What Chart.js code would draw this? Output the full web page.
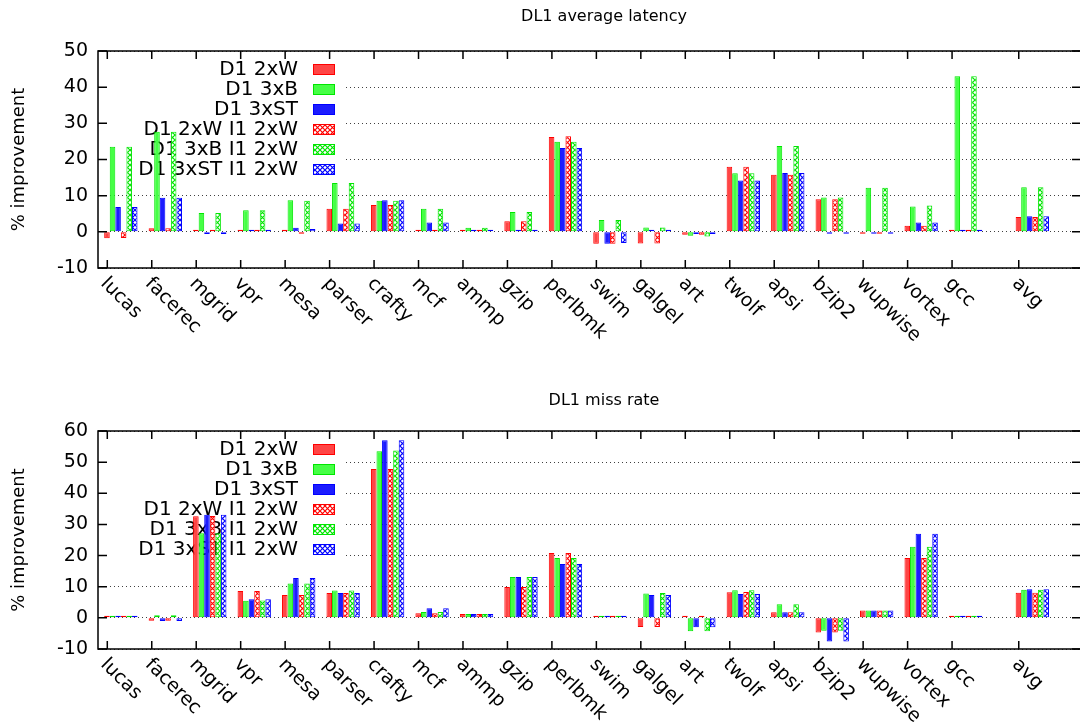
<!DOCTYPE html>
<html>
<head>
<meta charset="utf-8">
<title>DL1 average latency / DL1 miss rate</title>
<script src="https://cdn.jsdelivr.net/npm/chart.js@4/dist/chart.umd.min.js"></script>
<style>
    html, body { margin: 0; padding: 0; background: #fff; overflow: hidden; }
    #wrap { position: relative; width: 1080px; height: 726px; overflow: hidden; }
    canvas { position: absolute; left: 0; }
    #latency { top: 0; }
    #missrate { top: 381px; }
</style>
</head>
<body>
<div id="wrap">
    <canvas id="latency" width="1084" height="381"></canvas>
    <canvas id="missrate" width="1084" height="345"></canvas>
</div>
<script>
const benchmarks = ['lucas', 'facerec', 'mgrid', 'vpr', 'mesa', 'parser', 'crafty', 'mcf', 'ammp', 'gzip',
    'perlbmk', 'swim', 'galgel', 'art', 'twolf', 'apsi', 'bzip2', 'wupwise', 'vortex', 'gcc', 'avg']
// slot of each benchmark on the x axis (avg sits half a slot further out)
const benchSlots = [0, 1, 2, 3, 4, 5, 6, 7, 8, 9, 10, 11, 12, 13, 14, 15, 16, 17, 18, 19, 20.5]

const seriesNames = ['D1 2xW', 'D1 3xB', 'D1 3xST', 'D1 2xW I1 2xW', 'D1 3xB I1 2xW', 'D1 3xST I1 2xW']

// DL1 average latency, % improvement
const lat2xW = [-1.8, 1.0, 0.6, 0.6, 0.1, 6.4, 7.4, 0.6, 0.4, 2.9, 26.2, -3.3, -3.2, -0.8, 18.0, 15.8, 9.0, -0.5, 1.7, 0.6, 4.1]
const lat3xB = [23.5, 27.7, 5.2, 6.0, 8.7, 13.5, 8.6, 6.4, 1.1, 5.5, 24.9, 3.3, 1.2, -1.1, 16.2, 23.7, 9.5, 12.2, 7.0, 43.0, 12.3]
const lat3xST = [6.9, 9.4, -0.6, 0.6, 1.1, 2.3, 8.7, 2.6, 0.5, 0.6, 23.2, -3.3, 0.6, -0.6, 14.2, 16.3, -0.3, -0.2, 2.6, 0.3, 4.3]
const lat2xWI1 = [-1.7, 1.0, 0.6, 0.6, -0.4, 6.4, 7.4, 0.6, 0.4, 2.9, 26.4, -3.3, -3.2, -0.8, 18.0, 15.8, 9.0, -0.5, 1.7, 0.6, 4.1]
const lat3xBI1 = [23.5, 27.7, 5.2, 6.0, 8.6, 13.5, 8.6, 6.4, 1.1, 5.5, 24.9, 3.3, 1.2, -1.3, 16.2, 23.7, 9.5, 12.2, 7.3, 43.0, 12.3]
const lat3xSTI1 = [6.9, 9.4, -0.6, 0.6, 0.8, 2.3, 8.7, 2.6, 0.6, 0.6, 23.2, -3.1, 0.6, -0.6, 14.2, 16.3, -0.3, -0.2, 2.6, 0.3, 4.3]
const latTicks = [-10, 0, 10, 20, 30, 40, 50]

// DL1 miss rate, % improvement
const miss2xW = [0.3, -0.9, 32.6, 8.6, 7.3, 8.0, 47.8, 1.5, 1.2, 9.9, 20.8, 0.3, -2.9, 0.3, 8.2, 1.8, -4.7, 2.4, 19.2, 0.2, 8.1]
const miss3xB = [0.3, 0.8, 27.2, 5.5, 11.0, 8.8, 53.5, 1.9, 1.2, 13.1, 19.2, 0.3, 7.8, -4.3, 8.9, 4.4, -4.1, 2.4, 22.8, 0.4, 9.0]
const miss3xST = [0.3, -1.0, 33.1, 6.0, 12.8, 8.0, 57.0, 3.1, 1.2, 13.1, 17.3, 0.3, 7.3, -3.0, 7.7, 1.8, -7.6, 2.4, 27.0, 0.4, 9.2]
const miss2xWI1 = [0.3, -0.9, 32.7, 8.6, 7.3, 8.0, 47.8, 1.5, 1.2, 9.9, 20.8, 0.3, -2.9, 0.3, 8.3, 1.8, -4.7, 2.4, 19.2, 0.2, 8.1]
const miss3xBI1 = [0.3, 0.8, 27.2, 5.6, 11.0, 8.8, 53.7, 1.9, 1.2, 13.1, 19.2, 0.3, 8.0, -4.3, 8.9, 4.4, -4.1, 2.4, 22.8, 0.4, 9.0]
const miss3xSTI1 = [0.3, -1.0, 33.1, 6.0, 12.8, 8.0, 57.0, 3.1, 1.2, 13.1, 17.3, 0.3, 7.3, -3.0, 7.7, 1.8, -7.6, 2.4, 27.0, 0.4, 9.2]
const missTicks = [-10, 0, 10, 20, 30, 40, 50, 60]

const FONT = '"DejaVu Sans", sans-serif'
const lineColors = ['#ff0000', '#00e600', '#0000ff']
const solidFills = ['#ff4545', '#45ff45', '#1c1cff']
// the bar cluster sits just right of its tick, as in the gnuplot original
const CLUSTER_SHIFT = 0.305

function hatch(color) {
    const c = document.createElement('canvas')
    c.width = 5
    c.height = 5
    const g = c.getContext('2d')
    g.fillStyle = '#fff'
    g.fillRect(0, 0, 5, 5)
    g.strokeStyle = color
    g.lineWidth = 1.2
    g.beginPath()
    g.moveTo(0, 0); g.lineTo(5, 5)
    g.moveTo(5, 0); g.lineTo(0, 5)
    g.stroke()
    return g.createPattern(c, 'repeat')
}

const gnuplotLook = {
    id: 'gnuplotLook',
    beforeDatasetsDraw(chart, args, o) {
        // opaque key: hides the grid, bars are drawn over it afterwards
        const ctx = chart.ctx
        const a = chart.chartArea
        ctx.save()
        ctx.fillStyle = '#fff'
        ctx.fillRect(a.left + 1, a.top + 1, 247, 130)
        ctx.font = '20px ' + FONT
        ctx.textAlign = 'right'
        ctx.textBaseline = 'middle'
        chart.data.datasets.forEach((ds, i) => {
            const y = a.top + 18.5 + i * 20
            ctx.fillStyle = '#000'
            ctx.fillText(ds.label, 298, y)
            ctx.fillStyle = ds.backgroundColor
            ctx.fillRect(313, y - 5.5, 22, 11)
            ctx.strokeStyle = ds.borderColor
            ctx.lineWidth = 1
            ctx.strokeRect(313.5, y - 5, 21, 10)
        })
        ctx.restore()
    },
    afterDraw(chart, args, o) {
        const ctx = chart.ctx
        const a = chart.chartArea
        const xs = chart.scales.x
        const ys = chart.scales.y
        ctx.save()
        ctx.strokeStyle = '#000'
        ctx.lineWidth = 1.5
        ctx.strokeRect(a.left, a.top, a.right - a.left, a.bottom - a.top)
        ctx.beginPath()
        xs.ticks.forEach(t => {
            const px = xs.getPixelForValue(t.value)
            ctx.moveTo(px, a.bottom); ctx.lineTo(px, a.bottom - 8)
            ctx.moveTo(px, a.top); ctx.lineTo(px, a.top + 8)
        })
        ys.ticks.forEach(t => {
            const py = ys.getPixelForValue(t.value)
            ctx.moveTo(a.left, py); ctx.lineTo(a.left + 9, py)
            ctx.moveTo(a.right, py); ctx.lineTo(a.right - 9, py)
        })
        ctx.stroke()

        ctx.fillStyle = '#000'
        ctx.font = '19px ' + FONT
        ctx.textAlign = 'left'
        ctx.textBaseline = 'top'
        benchmarks.forEach((name, i) => {
            const px = xs.getPixelForValue(benchSlots[i])
            ctx.save()
            ctx.translate(px + 3, a.bottom + 6)
            ctx.rotate(Math.PI / 4)
            ctx.fillText(name, 0, 0)
            ctx.restore()
        })

        ctx.font = '16px ' + FONT
        ctx.textAlign = 'center'
        ctx.textBaseline = 'middle'
        ctx.fillText(o.title, 604, o.titleY)
        ctx.restore()
    }
}

function makeChart(id, title, titleY, series, yTicks, topPad, xAxisHeight) {
    const datasets = series.map((values, k) => {
        const c = k % 3
        return {
            label: seriesNames[k],
            data: values.map((v, i) => ({ x: benchSlots[i] + CLUSTER_SHIFT, y: v })),
            backgroundColor: k < 3 ? solidFills[c] : hatch(lineColors[c]),
            borderColor: lineColors[c],
            borderWidth: 1,
            borderSkipped: false,
            minBarLength: 2,
            categoryPercentage: 0.75,
            barPercentage: 1.0
        }
    })

    return new Chart(document.getElementById(id), {
        type: 'bar',
        data: { datasets: datasets },
        plugins: [gnuplotLook],
        options: {
            responsive: false,
            animation: false,
            events: [],
            devicePixelRatio: 1,
            layout: { padding: { top: topPad, right: 3, left: 0, bottom: 0 } },
            plugins: {
                legend: { display: false },
                tooltip: { enabled: false },
                gnuplotLook: { title: title, titleY: titleY }
            },
            scales: {
                x: {
                    type: 'linear',
                    offset: false,
                    min: -0.209,
                    max: 21.9,
                    grid: { display: false, offset: false },
                    border: { display: false },
                    ticks: { display: false },
                    afterBuildTicks: s => { s.ticks = benchSlots.map(v => ({ value: v })) },
                    afterFit: s => { s.height = xAxisHeight }
                },
                y: {
                    min: yTicks[0],
                    max: yTicks[yTicks.length - 1],
                    afterBuildTicks: s => { s.ticks = yTicks.map(v => ({ value: v })) },
                    afterFit: s => { s.width = 98 },
                    grid: { color: 'rgba(0,0,0,0.75)', lineWidth: 1, drawTicks: false },
                    border: { display: false, dash: [1, 3] },
                    ticks: { color: '#000', padding: 10, font: { family: FONT, size: 19 } },
                    title: {
                        display: true,
                        text: '% improvement',
                        color: '#000',
                        font: { family: FONT, size: 18 },
                        padding: { top: 9, bottom: 0 }
                    }
                }
            }
        }
    })
}

makeChart('latency', 'DL1 average latency', 17,
    [lat2xW, lat3xB, lat3xST, lat2xWI1, lat3xBI1, lat3xSTI1], latTicks, 51, 113)
makeChart('missrate', 'DL1 miss rate', 20,
    [miss2xW, miss3xB, miss3xST, miss2xWI1, miss3xBI1, miss3xSTI1], missTicks, 50, 77)
</script>
</body>
</html>
